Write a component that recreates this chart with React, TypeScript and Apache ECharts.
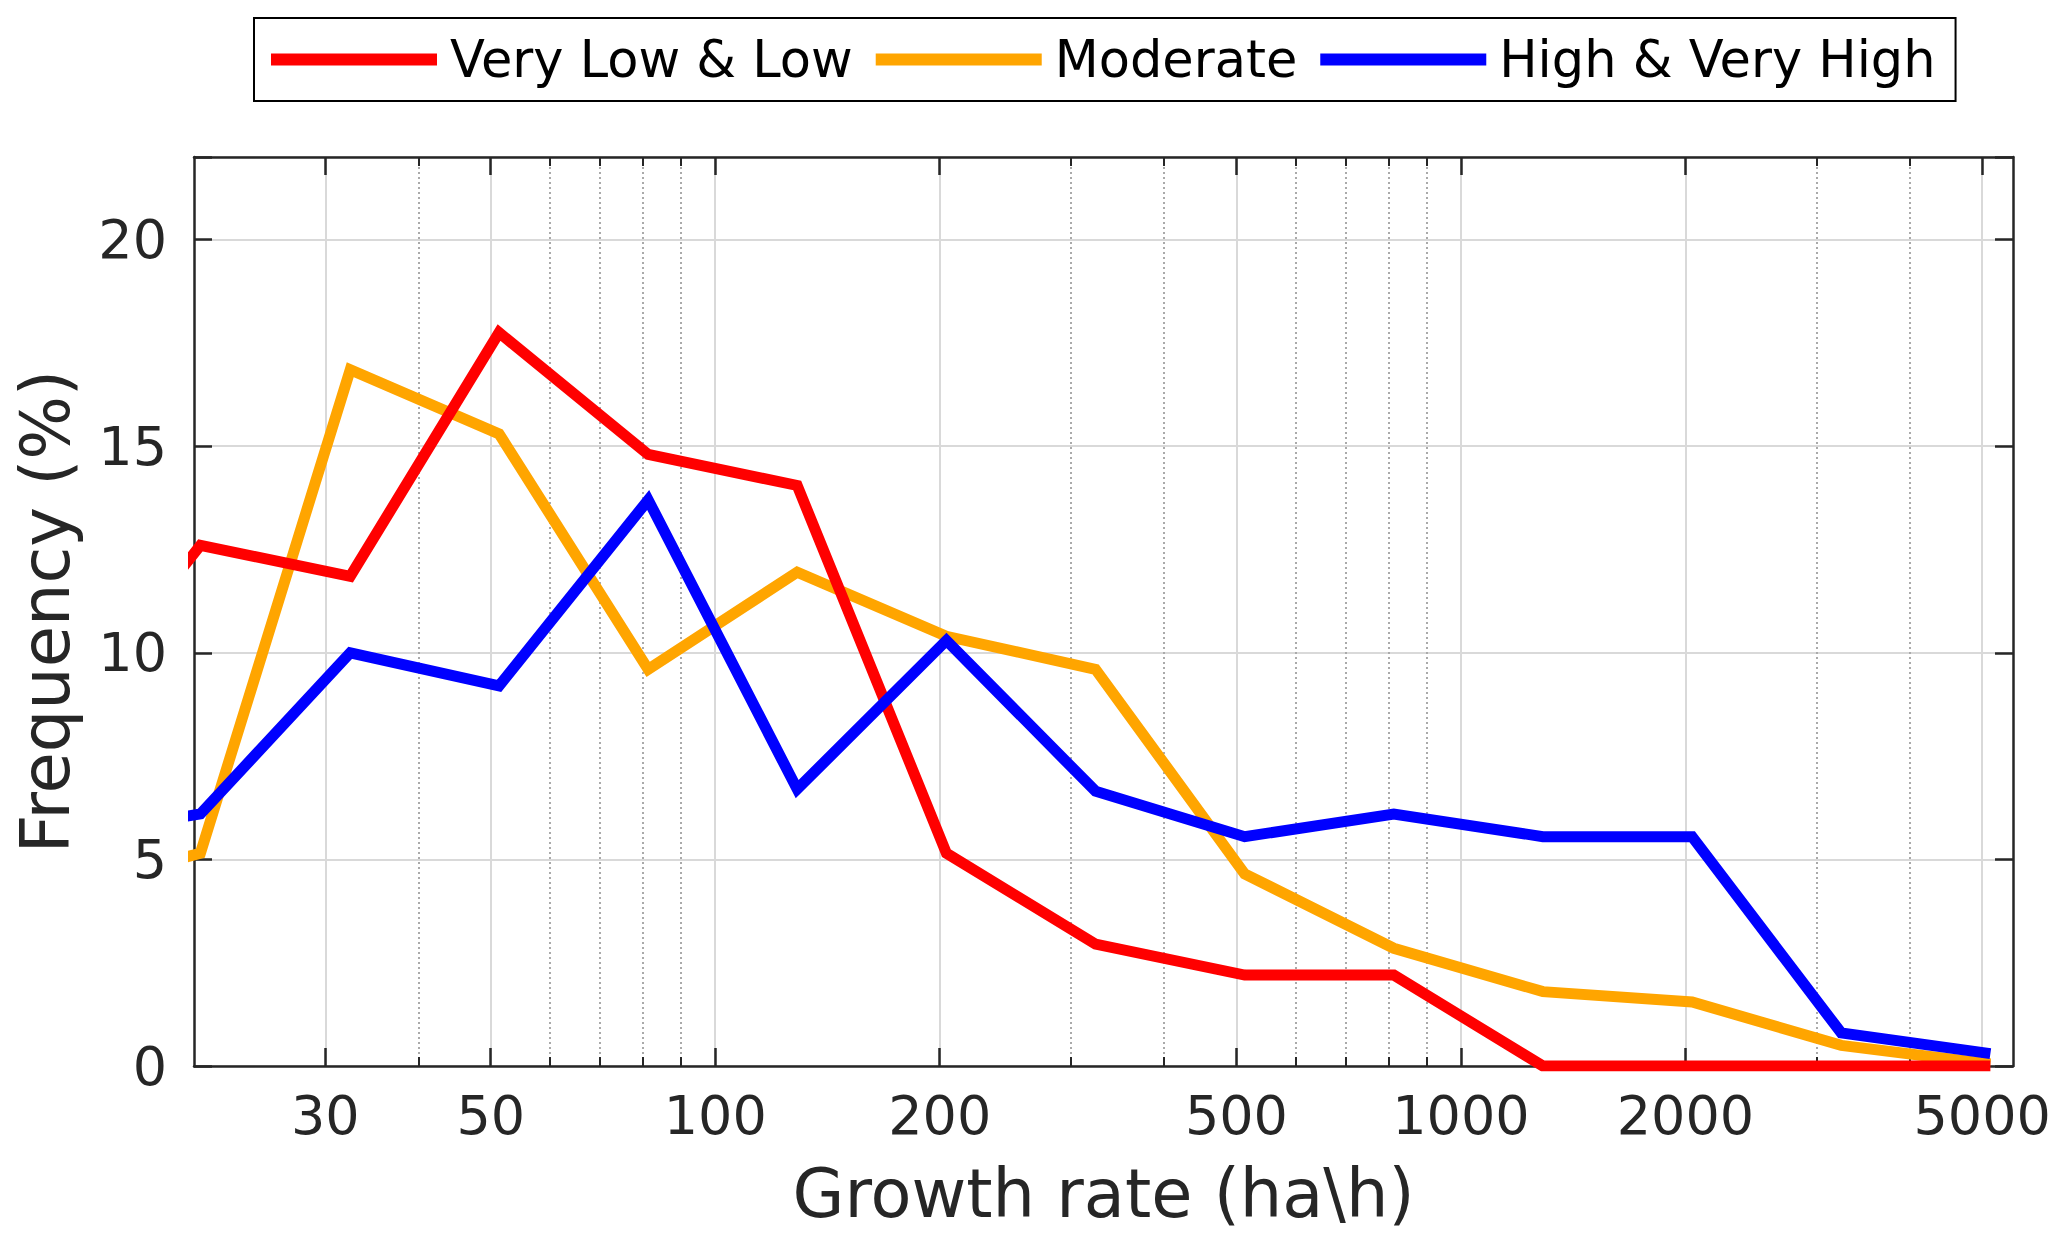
// Frequency of growth rates per class, log x axis

import { useEffect, useRef } from 'react';
import * as echarts from 'echarts';

// bin centres (ha\h); the first one sits left of the visible range
const growthRates = [12.9, 20.4, 32.4, 51.3, 81.3, 128.8, 204.2, 323.6, 512.9, 812.8, 1288, 2042, 3236, 5129];

const veryLowLow = [8.1, 12.6, 11.85, 17.75, 14.8, 14.05, 5.15, 2.95, 2.2, 2.2, 0, 0, 0, 0];
const moderate = [4.2, 5.15, 16.85, 15.3, 9.6, 11.95, 10.4, 9.6, 4.65, 2.85, 1.8, 1.55, 0.5, 0.05];
const highVeryHigh = [5.5, 6.1, 10.0, 9.2, 13.7, 6.7, 10.3, 6.65, 5.55, 6.1, 5.55, 5.55, 0.8, 0.3];

const seriesNames = ['Very Low & Low', 'Moderate', 'High & Very High'];
const seriesColors = ['#ff0000', '#ffa500', '#0000ff'];

const majorTicks = [30, 50, 100, 200, 500, 1000, 2000, 5000];
const minorTicks = [40, 60, 70, 80, 90, 300, 400, 600, 700, 800, 900, 3000, 4000];

const X_MIN = 20;
const X_MAX = 5500;
const Y_MAX = 22;

const FONT = 'DejaVu Sans';
const INK = '#262626';

export default function App() {
    const chartRef = useRef<HTMLDivElement>(null);

    useEffect(() => {
        if (!chartRef.current) return;
        document.body.style.margin = '0';

        const chart = echarts.init(chartRef.current, null, { renderer: 'svg' });

        const logAxis = (extra: any) => ({
            type: 'log',
            logBase: 10,
            min: X_MIN,
            max: X_MAX,
            axisLine: { show: false },
            axisLabel: { show: false },
            splitLine: { show: false },
            ...extra,
        });

        const border = { show: true, lineStyle: { color: INK, width: 2.5 } };

        const option: echarts.EChartsOption = {
            animation: false,
            backgroundColor: '#ffffff',
            grid: {
                left: 194,
                right: 54,
                top: 157,
                bottom: 183,
                containLabel: false,
                outerBoundsMode: 'none',
            } as any,
            legend: {
                data: seriesNames,
                left: 254,
                top: 18,
                icon: 'rect',
                itemWidth: 166,
                itemHeight: 12,
                itemGap: 23,
                padding: [16, 20, 16, 17],
                borderColor: '#000',
                borderWidth: 2,
                selectedMode: false,
                textStyle: {
                    fontFamily: FONT,
                    fontSize: 51,
                    color: '#000',
                    padding: [0, 0, 0, 8],
                },
            },
            xAxis: [
                // bottom, major ticks, labels and solid grid
                logAxis({
                    position: 'bottom',
                    axisLine: border,
                    axisTick: {
                        inside: true,
                        length: 18,
                        customValues: majorTicks,
                        lineStyle: { color: INK, width: 2.5 },
                    },
                    axisLabel: {
                        show: true,
                        customValues: majorTicks,
                        formatter: (v: number) => String(Math.round(v)),
                        fontFamily: FONT,
                        fontSize: 54,
                        color: INK,
                        margin: 22,
                    },
                    splitLine: { show: true, lineStyle: { color: '#d9d9d9', width: 2 } },
                    name: 'Growth rate (ha\\h)',
                    nameLocation: 'middle',
                    nameGap: 94,
                    nameTextStyle: { fontFamily: FONT, fontSize: 67, color: INK },
                }),
                // bottom, minor ticks and dotted grid
                logAxis({
                    position: 'bottom',
                    axisTick: {
                        inside: true,
                        length: 9,
                        customValues: minorTicks,
                        lineStyle: { color: INK, width: 2 },
                    },
                    splitLine: { show: true, lineStyle: { color: '#aaaaaa', width: 2, type: [2, 3] } },
                }),
                // top border with ticks
                logAxis({
                    position: 'top',
                    axisLine: border,
                    axisTick: {
                        inside: true,
                        length: 18,
                        customValues: majorTicks,
                        lineStyle: { color: INK, width: 2.5 },
                    },
                }),
                logAxis({
                    position: 'top',
                    axisTick: {
                        inside: true,
                        length: 9,
                        customValues: minorTicks,
                        lineStyle: { color: INK, width: 2 },
                    },
                }),
            ],
            yAxis: [
                {
                    type: 'value',
                    position: 'left',
                    min: 0,
                    max: Y_MAX,
                    interval: 5,
                    axisLine: border,
                    axisTick: { inside: true, length: 18, lineStyle: { color: INK, width: 2.5 } },
                    axisLabel: {
                        formatter: (v: number) => (v % 5 === 0 ? String(v) : ''),
                        fontFamily: FONT,
                        fontSize: 54,
                        color: INK,
                        margin: 27,
                    },
                    splitLine: { show: true, lineStyle: { color: '#d9d9d9', width: 2 } },
                    name: 'Frequency (%)',
                    nameLocation: 'middle',
                    nameGap: 115,
                    nameTextStyle: { fontFamily: FONT, fontSize: 67, color: INK },
                },
                {
                    type: 'value',
                    position: 'right',
                    min: 0,
                    max: Y_MAX,
                    interval: 5,
                    axisLine: border,
                    axisTick: { inside: true, length: 18, lineStyle: { color: INK, width: 2.5 } },
                    axisLabel: { show: false },
                    splitLine: { show: false },
                },
            ],
            series: [veryLowLow, moderate, highVeryHigh].map((values, i) => ({
                type: 'line',
                name: seriesNames[i],
                xAxisIndex: 0,
                yAxisIndex: 0,
                data: growthRates.map((x, j) => [x, values[j]]),
                showSymbol: false,
                symbol: 'none',
                clip: true,
                silent: true,
                z: [3, 2, 4][i],
                color: seriesColors[i],
                lineStyle: { color: seriesColors[i], width: 11, cap: 'butt', join: 'miter' },
                emphasis: { disabled: true },
            })) as any,
        };

        chart.setOption(option, { notMerge: true });

        return () => {
            chart.dispose();
        };
    }, []);

    return <div ref={chartRef} style={{ width: '2067px', height: '1249px' }} />;
}
